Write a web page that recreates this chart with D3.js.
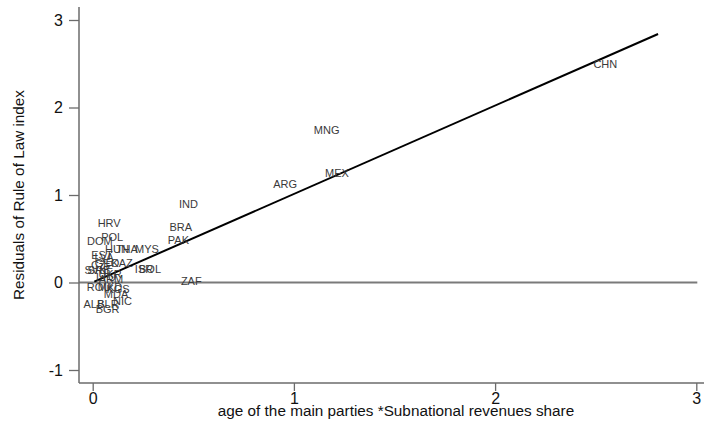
<!DOCTYPE html>
<html>
<head>
<meta charset="utf-8">
<script src="https://cdn.jsdelivr.net/npm/d3@7"></script>
<style>
  html, body { margin: 0; padding: 0; background: #fff; }
  svg { display: block; font-family: "Liberation Sans", Arial, sans-serif; }
</style>
</head>
<body>
<svg id="chart" width="708" height="424"></svg>
<script>
// ---- data ----
const countries = ["CHN","MNG","MEX","ARG","IND","BRA","PAK","ZAF","HRV","DOM","POL","HUN","THA","MYS",
  "EST","LVA","GEO","KAZ","CZE","SVK","SRB","ISR","BOL","UKR","ARM","LTU","ROU","MKD","KGS","MDA","NIC","ALB","BLR","BGR"];
const xValues = [2.548,1.163,1.214,0.956,0.476,0.438,0.426,0.490,0.082,0.036,0.097,0.121,0.170,0.270,
  0.046,0.056,0.071,0.146,0.046,0.014,0.031,0.255,0.285,0.086,0.091,0.066,0.031,0.086,0.126,0.116,0.148,0.006,0.076,0.074];
const yValues = [2.497,1.737,1.251,1.123,0.895,0.632,0.486,0.019,0.677,0.477,0.523,0.379,0.379,0.379,
  0.314,0.291,0.226,0.226,0.200,0.143,0.137,0.151,0.151,0.097,0.040,0.063,-0.051,-0.051,-0.074,-0.131,-0.208,-0.242,-0.242,-0.306];
const fitIntercept = 0.002;
const fitSlope = 1.01;
const fitRange = [0.008, 2.81];
const xTicks = [0, 1, 2, 3];
const yTicks = [-1, 0, 1, 2, 3];
const xTitle = "age of the main parties *Subnational revenues share";
const yTitle = "Residuals of Rule of Law index";

// ---- layout ----
const svg = d3.select("#chart");
const plotLeft = 79, plotRight = 704, plotTop = 7, plotBottom = 383;
const x = d3.scaleLinear().domain([0, 3]).range([92.7, 696.3]);
const y = d3.scaleLinear().domain([-1, 3]).range([370, 20]);
const axisColor = "#6b6b6b";

// zero reference line
svg.append("line")
  .attr("x1", plotLeft).attr("x2", x(3) + 1)
  .attr("y1", y(0)).attr("y2", y(0))
  .attr("stroke", "#7a7a7a").attr("stroke-width", 2);

// fitted line
svg.append("line")
  .attr("x1", x(fitRange[0])).attr("y1", y(fitIntercept + fitSlope * fitRange[0]))
  .attr("x2", x(fitRange[1])).attr("y2", y(fitIntercept + fitSlope * fitRange[1]))
  .attr("stroke", "#000").attr("stroke-width", 2);

// labels
const pts = countries.map((c, i) => ({ c, x: xValues[i], y: yValues[i] }));
svg.append("g").selectAll("text").data(pts).join("text")
  .attr("x", d => x(d.x)).attr("y", d => y(d.y))
  .attr("dy", "0.36em")
  .attr("text-anchor", "middle")
  .attr("font-size", 11)
  .attr("fill", "#3a3a3a")
  .text(d => d.c);

// axes
const fmt = d => String(d);
const gx = svg.append("g").attr("transform", `translate(0,${plotBottom})`)
  .call(d3.axisBottom(x).tickValues(xTicks).tickSize(8).tickSizeOuter(0).tickPadding(2).tickFormat(fmt));
const gy = svg.append("g").attr("transform", `translate(${plotLeft},0)`)
  .call(d3.axisLeft(y).tickValues(yTicks).tickSize(10).tickSizeOuter(0).tickPadding(6).tickFormat(fmt));
[gx, gy].forEach(g => {
  g.attr("font-size", 16).attr("font-family", "'Liberation Sans', Arial, sans-serif");
  g.select(".domain").remove();
  g.selectAll(".tick line").attr("stroke", axisColor).attr("stroke-width", 1.3);
  g.selectAll(".tick text").attr("font-size", 16).attr("fill", "#111");
});

svg.append("line").attr("x1", plotLeft).attr("x2", plotLeft).attr("y1", plotTop).attr("y2", plotBottom)
  .attr("stroke", axisColor).attr("stroke-width", 1.5);
svg.append("line").attr("x1", plotLeft).attr("x2", plotRight).attr("y1", plotBottom).attr("y2", plotBottom)
  .attr("stroke", axisColor).attr("stroke-width", 1.5);

// titles
svg.append("text").attr("x", 396).attr("y", 416)
  .attr("text-anchor", "middle").attr("font-size", 15.3).attr("fill", "#111").text(xTitle);
svg.append("text").attr("transform", `translate(24,${(plotTop + plotBottom) / 2}) rotate(-90)`)
  .attr("text-anchor", "middle").attr("font-size", 15.3).attr("fill", "#111").text(yTitle);
</script>
</body>
</html>
